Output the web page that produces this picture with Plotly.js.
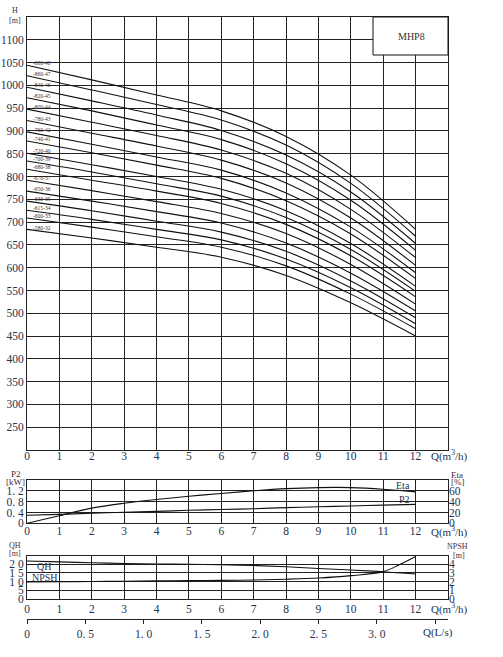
<!DOCTYPE html>
<html>
<head>
<meta charset="utf-8">
<script src="https://cdn.plot.ly/plotly-3.0.1.min.js"></script>
<style>html,body{margin:0;padding:0;background:#fff;}#chart{width:503px;height:657px;}</style>
</head>
<body>
<div id="chart"></div>
<script>
// ---------- data ----------
const qHead = [0, 2, 4, 6, 8, 10, 12];
const curveLabels = ["-880-48","-860-47","-840-46","-820-45","-800-44","-780-43","-760-42","-740-41","-720-40","-700-39","-680-38","-670-37","-650-36","-630-35","-615-34","-600-33","-580-32"];
const h48 = [1044, 1012, 979, 944, 888, 803, 684];
const h47 = [1021, 990, 958, 924, 869, 785, 669];
const h46 = [996, 966, 935, 901, 847, 766, 653];
const h45 = [973, 944, 913, 881, 828, 748, 638];
const h44 = [948, 919, 890, 858, 807, 728, 622];
const h43 = [923, 895, 867, 836, 786, 709, 605];
const h42 = [898, 871, 843, 814, 764, 689, 589];
const h41 = [878, 852, 825, 796, 747, 674, 576];
const h40 = [851, 826, 800, 772, 725, 653, 559];
const h39 = [834, 810, 784, 757, 710, 640, 548];
const h38 = [816, 792, 768, 741, 695, 626, 536];
const h37 = [792, 769, 745, 719, 675, 607, 520];
const h36 = [768, 746, 723, 698, 654, 588, 505];
const h35 = [746, 725, 702, 678, 636, 571, 490];
const h34 = [726, 706, 684, 661, 619, 556, 477];
const h33 = [709, 689, 668, 645, 604, 542, 466];
const h32 = [684, 665, 645, 623, 583, 523, 450];
const headCurves = [h48,h47,h46,h45,h44,h43,h42,h41,h40,h39,h38,h37,h36,h35,h34,h33,h32];

const qPerf = [0,1,2,3,4,5,6,7,8,9,10,11,12];
const etaPct = [0, 14, 28, 37, 44, 50, 55, 60, 64, 66, 66, 63, 58];
const p2kW = [0.30, 0.33, 0.37, 0.41, 0.44, 0.48, 0.51, 0.54, 0.58, 0.61, 0.64, 0.67, 0.70];
const qhStage = [21.9, 21.4, 20.9, 20.5, 20.2, 20.0, 19.8, 19.3, 18.6, 17.6, 16.7, 15.7, 14.4];
const qNpsh = [0,1,2,3,4,5,6,7,8,9,10,11,11.5,12];
const npsh = [1.95, 1.97, 2.0, 2.03, 2.07, 2.1, 2.13, 2.18, 2.26, 2.4, 2.68, 3.15, 3.95, 4.9];

const mainYTicks = [250,300,350,400,450,500,550,600,650,700,750,800,850,900,950,1000,1050,1100];
const qTicks = [0,1,2,3,4,5,6,7,8,9,10,11,12];
const p2Ticks = [0, 0.4, 0.8, 1.2];
const p2TickText = ["0", "0. 4", "0. 8", "1. 2"];
const etaTicks = [0, 20, 40, 60];
const qhTicks = [0, 5, 10, 15, 20];
const qhTickText = ["0", "5", "1 0", "1 5", "2 0"];
const npshTicks = [0, 1, 2, 3, 4];
const lsTicks = [0, 0.5, 1.0, 1.5, 2.0, 2.5, 3.0, 3.5];
const lsTickText = ["0", "0. 5", "1. 0", "1. 5", "2. 0", "2. 5", "3. 0", ""];

// ---------- layout helpers ----------
const W = 503, H = 657;
const px = v => v / W;
const py = v => 1 - v / H;
const X0 = px(27), X1 = px(448);
const INK = '#111';
const GRID = '#222';
const TXT = '#27304f';
const TTL = '#4a2838';
const FONT = 'Liberation Serif, DejaVu Serif, serif';

const traces = [];
headCurves.forEach((h, i) => {
  traces.push({x: qHead, y: h, xaxis: 'x', yaxis: 'y', mode: 'lines',
    line: {color: INK, width: 1.1, shape: 'spline', smoothing: 1}, hoverinfo: 'skip'});
});
traces.push({x: qPerf, y: etaPct, xaxis: 'x2', yaxis: 'y3', mode: 'lines',
  line: {color: INK, width: 1.1, shape: 'spline'}, hoverinfo: 'skip'});
traces.push({x: qPerf, y: p2kW, xaxis: 'x2', yaxis: 'y2', mode: 'lines',
  line: {color: INK, width: 1.1, shape: 'spline'}, hoverinfo: 'skip'});
traces.push({x: qPerf, y: qhStage, xaxis: 'x3', yaxis: 'y4', mode: 'lines',
  line: {color: INK, width: 1.1, shape: 'spline'}, hoverinfo: 'skip'});
traces.push({x: qNpsh, y: npsh, xaxis: 'x3', yaxis: 'y5', mode: 'lines',
  line: {color: INK, width: 1.1, shape: 'spline'}, hoverinfo: 'skip'});
traces.push({x: [0], y: [null], xaxis: 'x4', yaxis: 'y4', mode: 'lines', hoverinfo: 'skip'});

const baseX = {
  range: [0, 13], tickvals: qTicks, showgrid: true, gridcolor: GRID, gridwidth: 1,
  showline: true, mirror: true, linecolor: GRID, linewidth: 1, ticks: '', zeroline: false,
  tickfont: {family: FONT, size: 11.5, color: TXT}, fixedrange: true
};
const baseY = {
  showgrid: true, gridcolor: GRID, gridwidth: 1, showline: true, mirror: true,
  linecolor: GRID, linewidth: 1, ticks: '', zeroline: false,
  tickfont: {family: FONT, size: 11.5, color: TXT}, fixedrange: true
};

const annotations = [];
function note(text, x, y, size, color, xanchor) {
  annotations.push({text: text, xref: 'paper', yref: 'paper', x: px(x), y: py(y),
    xanchor: xanchor || 'center', yanchor: 'middle', showarrow: false,
    font: {family: FONT, size: size, color: color || TXT}});
}
// curve labels
headCurves.forEach((h, i) => {
  annotations.push({text: curveLabels[i], xref: 'x', yref: 'y', x: 0.12, y: h[0] + 4,
    xanchor: 'left', yanchor: 'middle', showarrow: false,
    font: {family: FONT, size: 5.5, color: '#333'}});
});
note('H', 15, 11, 8, TXT);
note('[m]', 15, 20, 8, TXT);
note('MHP8', 411, 36, 10, '#333');
note('Q(m<sup>3</sup>/h)', 449, 455, 11, TXT);
note('P2', 16, 474, 9, TTL);
note('[kW]', 15, 482, 9, TTL);
note('Eta', 457, 475, 9, TTL);
note('[%]', 458, 482, 9, TTL);
note('Eta', 403, 485, 10, TXT);
note('P2', 404, 499, 10, TXT);
note('Q(m<sup>3</sup>/h)', 449, 531, 11, TXT);
note('QH', 15, 545, 8, TTL);
note('[m]', 15, 553, 8, TTL);
note('NPSH', 457, 546, 8, TTL);
note('[m]', 459, 555, 8, TTL);
note('QH', 44, 566, 10, TXT);
note('NPSH', 45, 577, 10, TXT);
note('Q(m<sup>3</sup>/h)', 449, 608, 11, TXT);
note('Q(L/s)', 438, 632, 11, TXT);

const layout = {
  width: W, height: H, margin: {l: 0, r: 0, t: 0, b: 0},
  paper_bgcolor: '#fff', plot_bgcolor: '#fff', showlegend: false,
  font: {family: FONT, size: 11, color: TXT},
  xaxis: Object.assign({}, baseX, {domain: [X0, X1], anchor: 'y', ticklabelstandoff: -5}),
  yaxis: Object.assign({}, baseY, {domain: [py(450), py(17)], range: [200, 1150], tickvals: mainYTicks, anchor: 'x'}),
  xaxis2: Object.assign({}, baseX, {domain: [X0, X1], anchor: 'y2', ticklabelstandoff: -3}),
  yaxis2: Object.assign({}, baseY, {domain: [py(523.3), py(480)], range: [0, 1.6], tickvals: p2Ticks, ticktext: p2TickText, anchor: 'x2'}),
  yaxis3: Object.assign({}, baseY, {overlaying: 'y2', side: 'right', anchor: 'x2', range: [0, 80], tickvals: etaTicks, showgrid: false, showline: false}),
  xaxis3: Object.assign({}, baseX, {domain: [X0, X1], anchor: 'y4', ticklabelstandoff: -1}),
  yaxis4: Object.assign({}, baseY, {domain: [py(598.7), py(555.7)], range: [0, 25], tickvals: qhTicks, ticktext: qhTickText, anchor: 'x3'}),
  yaxis5: Object.assign({}, baseY, {overlaying: 'y4', side: 'right', anchor: 'x3', range: [0, 5], tickvals: npshTicks, showgrid: false, showline: false}),
  xaxis4: {overlaying: 'x3', anchor: 'free', position: py(619), side: 'bottom', range: [0, 13 / 3.6],
    tickvals: lsTicks, ticktext: lsTickText, ticks: 'outside', ticklen: 4, tickcolor: GRID,
    showline: true, linecolor: GRID, linewidth: 1, showgrid: false, zeroline: false,
    tickfont: {family: FONT, size: 11.5, color: TXT}, fixedrange: true},
  shapes: [{type: 'rect', xref: 'paper', yref: 'paper', x0: px(373), x1: X1, y0: py(55), y1: py(17),
    fillcolor: '#fff', line: {color: INK, width: 1}, layer: 'above'}],
  annotations: annotations
};

Plotly.newPlot('chart', traces, layout, {staticPlot: true, displayModeBar: false});
</script>
</body>
</html>
